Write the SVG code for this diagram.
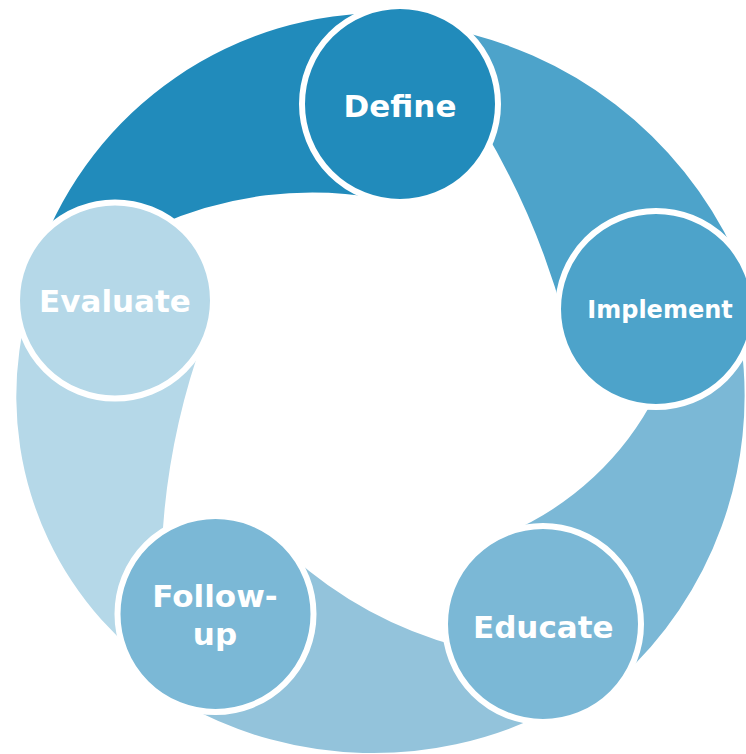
<svg xmlns="http://www.w3.org/2000/svg" width="746" height="754" viewBox="0 0 746 754">
  <style>
    .c1 { fill: #218BBB; }
    .c2 { fill: #4DA3CA; }
    .c3 { fill: #7BB8D6; }
    .c4 { fill: #93C3DB; }
    .c5 { fill: #B5D8E8; }
    .node { stroke: #FFFFFF; stroke-width: 6; }
    .lbl { font-family: "DejaVu Sans", Verdana, sans-serif; font-weight: bold; font-size: 31px; fill: #FFFFFF; text-anchor: middle; }
  </style>
  <rect width="746" height="754" fill="#FFFFFF"/>
  <g id="connectors">
    <path class="c1" d="M 39.1,253.8 A 366 366 0 0 1 389.4,13.1 L 400,104 L 378.2,198.3 A 380 380 0 0 0 157.6,225.4 L 115,300.5 Z"/>
    <path class="c2" d="M 440.6,27.6 A 401.8 401.8 0 0 1 735,253.5 L 656,309 L 564.9,321.1 A 755.6 755.6 0 0 0 482.8,127.6 L 400,104 Z"/>
    <path class="c3" d="M 740.9,342.4 A 383.3 383.3 0 0 1 617.8,680.5 L 543,624 L 507.1,533.4 A 297.4 297.4 0 0 0 655.9,394.6 L 656,309 Z"/>
    <path class="c4" d="M 544.4,713.6 A 390.7 390.7 0 0 1 183.7,704.1 L 215.5,614 L 290,554.7 A 412.9 412.9 0 0 0 459.4,646.7 L 543,624 Z"/>
    <path class="c5" d="M 136.2,653.5 A 335.7 335.7 0 0 1 29.3,303.8 L 115,300.5 L 204.2,336 A 716.6 716.6 0 0 0 161.4,556.1 L 215.5,614 Z"/>
  </g>
  <g id="node-define">
    <circle class="node c1" cx="400" cy="104" r="98"/>
    <text class="lbl" x="400" y="116.5">Define</text>
  </g>
  <g id="node-implement">
    <circle class="node c2" cx="656" cy="309" r="98"/>
    <text class="lbl" x="660" y="318.3" style="font-size:24px">Implement</text>
  </g>
  <g id="node-educate">
    <circle class="node c3" cx="543" cy="624" r="98"/>
    <text class="lbl" x="543.3" y="637.7">Educate</text>
  </g>
  <g id="node-followup">
    <circle class="node c3" cx="215.5" cy="614" r="98"/>
    <text class="lbl" x="215" y="606.7">Follow-</text>
    <text class="lbl" x="215" y="645">up</text>
  </g>
  <g id="node-evaluate">
    <circle class="node c5" cx="115" cy="300.5" r="98"/>
    <text class="lbl" x="115" y="311.7">Evaluate</text>
  </g>
</svg>
